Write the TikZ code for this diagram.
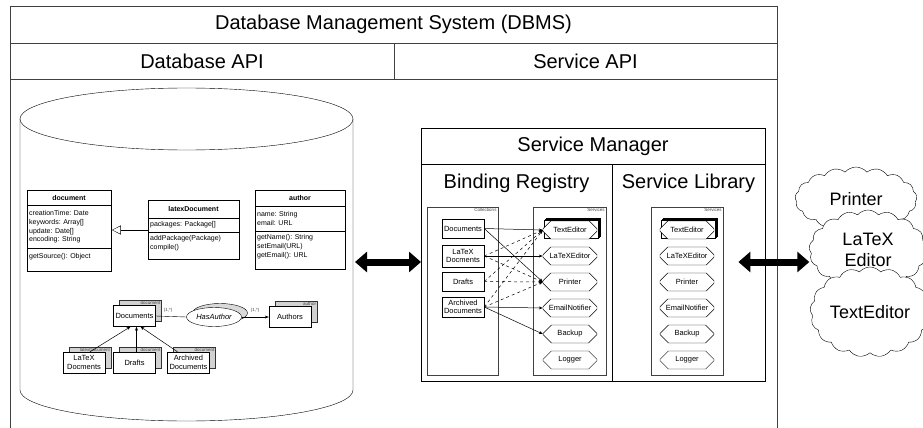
\documentclass[tikz,border=0pt]{standalone}
\usepackage{fontspec}
\setmainfont{Liberation Sans}
\usetikzlibrary{positioning,arrows.meta,shapes.misc,shapes.symbols,shapes.geometric}

\tikzset{
  bigtext/.style={font=\fontsize{20}{24}\selectfont},
  classtext/.style={font=\fontsize{7}{8.7}\selectfont, inner sep=1.5pt, align=left},
  classhead/.style={font=\fontsize{7}{8.7}\selectfont\bfseries, inner sep=1pt},
  tinytext/.style={font=\fontsize{4.5}{5}\selectfont, inner sep=0.8pt, text=black!75},
  collbox/.style={draw, fill=white, minimum width=42pt, minimum height=20pt, inner sep=0pt, align=center, font=\fontsize{7.5}{8.4}\selectfont},
  servbox/.style={draw, fill=white, chamfered rectangle, chamfered rectangle xsep=7pt, chamfered rectangle ysep=5pt, minimum width=54pt, minimum height=18pt, inner sep=0pt, font=\fontsize{7.5}{8}\selectfont},
  bigarrow/.style={line width=7pt, {Triangle[length=12pt,width=20pt]}-{Triangle[length=12pt,width=20pt]}},
  bubble/.style={draw, fill=white, cloud, cloud puffs=17, cloud puff arc=100, cloud ignores aspect, align=center, font=\fontsize{18}{21}\selectfont, inner sep=0pt},
  link/.style={-{Stealth[length=4pt,width=3pt]}, line width=0.5pt},
}

\begin{document}
\begin{tikzpicture}[x=1pt, y=-1pt]
  \useasboundingbox (0,0) rectangle (923,428);
  % DBMS frame
  \draw[black!75] (10,428) -- (10,6) -- (777,6) -- (777,428);
  \draw[black!75] (10,43) -- (777,43) (10,79) -- (777,79) (394,43) -- (394,79);
  \node[bigtext] (dbms) at (393.5,24.5) {Database Management System (DBMS)};
  \node[bigtext] (dbapi) at (202,61) {Database API};
  \node[bigtext] (svapi) at (585.5,61) {Service API};

  % Database cylinder
  \draw[fill=white] (20,119) -- (20,390) arc[start angle=180, end angle=360, x radius=166.5pt, y radius=31pt] -- (353,119);
  \draw (186.5,119) ellipse [x radius=166.5pt, y radius=31pt];
  \coordinate (dbR) at (355,262);

  % Class diagram
  \node[draw, line width=0.8pt, minimum width=84pt, minimum height=81pt, anchor=north west, inner sep=0pt] (docCls) at (27,190) {};
  \draw[line width=0.8pt] (27,205) -- (111,205) (27,248) -- (111,248);
  \node[classhead] at (69,197.5) {document};
  \node[classtext, anchor=west] at (27.5,227) {creationTime: Date\\keywords: Array[]\\update: Date[]\\encoding: String};
  \node[classtext, anchor=west] at (27.5,257) {getSource(): Object};

  \node[draw, line width=0.8pt, minimum width=91pt, minimum height=59pt, anchor=north west, inner sep=0pt] (latexCls) at (148,200) {};
  \draw[line width=0.8pt] (148,218) -- (239,218) (148,232) -- (239,232);
  \node[classhead] at (193.5,209) {latexDocument};
  \node[classtext, anchor=west] at (148.5,225) {packages: Package[]};
  \node[classtext, anchor=west] at (148.5,243) {addPackage(Package)\\compile()};

  \node[draw, line width=0.8pt, minimum width=90pt, minimum height=79pt, anchor=north west, inner sep=0pt] (authorCls) at (255,190) {};
  \draw[line width=0.8pt] (255,206) -- (345,206) (255,231) -- (345,231);
  \node[classhead] at (300,198) {author};
  \node[classtext, anchor=west] at (255.5,218.5) {name: String\\email: URL};
  \node[classtext, anchor=west] at (255.5,246.5) {getName(): String\\setEmail(URL)\\getEmail(): URL};

  \coordinate (inh) at (0,230);
  \draw[-{Triangle[open,length=9pt,width=9pt]}] (latexCls.west |- inh) -- (docCls.east |- inh);

  % Entity diagram
  \foreach \n/\x/\y/\t/\s in {eDocs/134.5/316/Documents/document, eLtx/84/362.5/{LaTeX\\Docments}/latexDocument, eDraft/134.5/362.5/Drafts/document, eArch/188.5/362.5/{Archived\\Documents}/document, eAuth/290/317/Authors/author} {
    \draw[fill=gray!35, draw=black!80] ({\x-15},{\y-15.5}) rectangle ({\x+27},{\y+5.5});
    \node[tinytext, anchor=north east] at ({\x+27},{\y-15.5}) {\s};
    \node[collbox, minimum height=21pt] (\n) at (\x,\y) {\t};
  }
  \node[draw, fill=gray!30, ellipse, minimum width=55pt, minimum height=19pt] at (220,313) {};
  \node[draw, fill=white, ellipse, minimum width=55pt, minimum height=19pt, inner sep=0pt, font=\fontsize{7.5}{8}\selectfont\itshape] (eHas) at (214,317) {HasAuthor};
  \draw (eDocs.east) -- (eHas.west);
  \draw[link] (eHas.east) -- (eAuth.west);
  \node[tinytext] at (168,310) {(1,*)};
  \node[tinytext] at (255,310) {(1,*)};
  \draw[link] ([xshift=6pt]eLtx.north) -- ([xshift=-4pt]eDocs.south);
  \draw[link] ([xshift=2pt]eDraft.north) -- ([xshift=2pt]eDocs.south);
  \draw[link] ([xshift=-11pt]eArch.north) -- ([xshift=6pt]eDocs.south);

  % Service manager
  \node[draw, minimum width=344pt, minimum height=253pt, anchor=north west, inner sep=0pt] (sm) at (421,128) {};
  \draw (421,164) -- (765,164) (612,164) -- (612,381);
  \node[bigtext] at (593,146) {Service Manager};
  \node[bigtext] at (516.5,183) {Binding Registry};
  \node[bigtext] at (688.5,183) {Service Library};

  \draw[black!75] (427,207) rectangle (498,375);
  \draw[black!75] (533,207) rectangle (606,375);
  \draw[black!75] (651,207) rectangle (723,375);
  \node[tinytext, anchor=north east] at (497.5,207.5) {Collections};
  \node[tinytext, anchor=north east] at (605.5,207.5) {Services};
  \node[tinytext, anchor=north east] at (722.5,207.5) {Services};

  \node[collbox, minimum height=19pt] (bDoc) at (463,228.5) {Documents};
  \node[collbox, minimum height=22pt] (bLtx) at (463,256) {LaTeX\\Docments};
  \node[collbox, minimum height=19pt] (bDraft) at (463,281.5) {Drafts};
  \node[collbox, minimum height=20pt] (bArch) at (463,307) {Archived\\Documents};

  \foreach \c/\p in {570/s, 687/l} {
    \foreach \d in {3,2,1}
      \node[servbox] at ({\c+\d},{230-\d}) {};
    \foreach \n/\t/\y in {Text/TextEditor/230, Ltx/LaTeXEditor/256, Print/Printer/282, Mail/EmailNotifier/308, Back/Backup/334, Log/Logger/360}
      \node[servbox] (\p\n) at (\c,\y) {\t};
  }

  \foreach \a/\b/\s in {bDoc/sText/solid, bDoc/sPrint/solid, bLtx/sText/dashed, bLtx/sLtx/solid, bLtx/sPrint/dashed, bDraft/sText/dashed, bDraft/sPrint/dashed, bArch/sText/dashed, bArch/sPrint/dashed, bArch/sMail/solid, bArch/sBack/solid}
    \draw[link, \s] (\a.east) -- (\b.west);

  % External services
  \node[bubble, minimum width=122pt, minimum height=64pt] (cPrint) at (856,199) {Printer};
  \node[bubble, minimum width=118pt, minimum height=80pt] (cLtx) at (868,250) {LaTeX\\Editor};
  \node[bubble, minimum width=120pt, minimum height=90pt] (cText) at (870,312) {TextEditor};

  % API arrows
  \draw[bigarrow] (dbR) -- (sm.west |- dbR);
  \draw[bigarrow] ([xshift=-27pt]sm.east |- dbR) -- (cLtx.west |- dbR);
\end{tikzpicture}
\end{document}
